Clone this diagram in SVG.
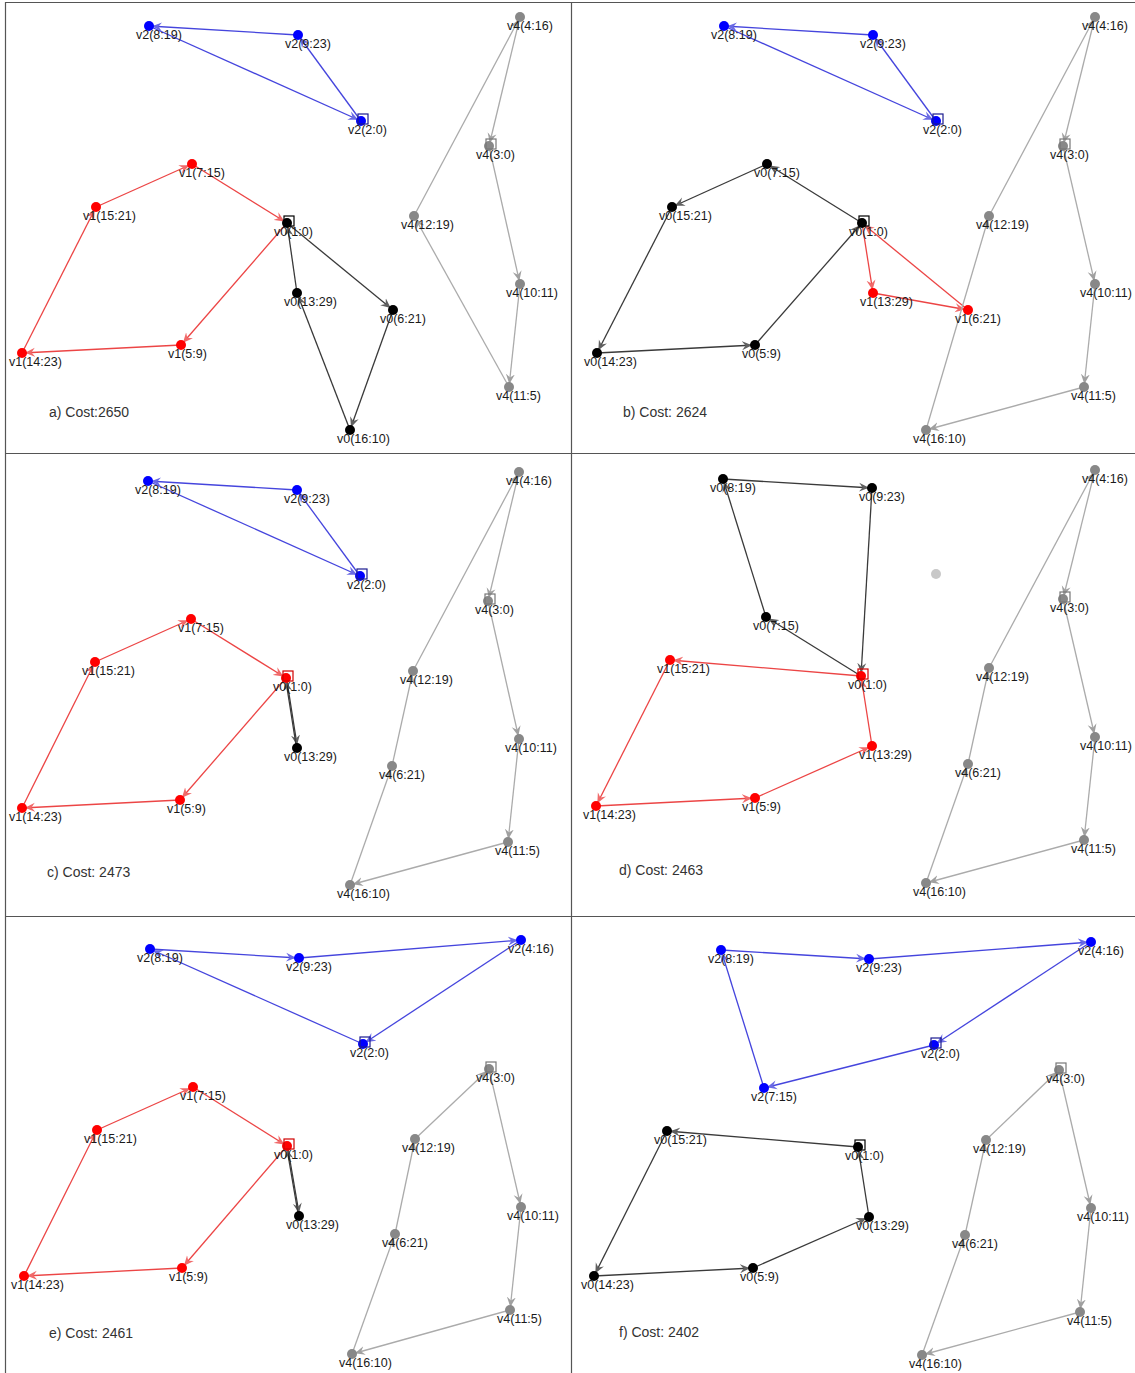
<svg xmlns="http://www.w3.org/2000/svg" width="1135" height="1373" viewBox="0 0 1135 1373">
<style>
.bg{fill:#fff}
.frame{stroke:#555;stroke-width:1.2;fill:none}
.lb{font-family:"Liberation Sans",Arial,sans-serif;font-size:12.5px;fill:#1a1a1a}
.cost{font-family:"Liberation Sans",Arial,sans-serif;font-size:14px;fill:#333}
.eb{stroke:#4545dd;stroke-width:1.3;marker-end:url(#mb)}
.er{stroke:#ec4545;stroke-width:1.3;marker-end:url(#mr)}
.ek{stroke:#3a3a3a;stroke-width:1.3;marker-end:url(#mk)}
.eg{stroke:#ababab;stroke-width:1.3;marker-end:url(#mg)}
.nb{fill:#0000ff}.nr{fill:#ff0000}.nk{fill:#000}.ng{fill:#888}.nl{fill:#c8c8c8}
.sq{fill:none;stroke-width:1.2}
.sb{stroke:#1c1c90}.sr{stroke:#d00000}.sk{stroke:#000}.sg{stroke:#777}
</style>
<defs>
<marker id="mb" viewBox="0 0 10 10" refX="13" refY="5" markerWidth="10" markerHeight="10" markerUnits="userSpaceOnUse" orient="auto"><path d="M0,0.5 L10,5 L0,9.5 L3.5,5 z" fill="#6a6ae4"/></marker>
<marker id="mr" viewBox="0 0 10 10" refX="13" refY="5" markerWidth="10" markerHeight="10" markerUnits="userSpaceOnUse" orient="auto"><path d="M0,0.5 L10,5 L0,9.5 L3.5,5 z" fill="#f06a6a"/></marker>
<marker id="mk" viewBox="0 0 10 10" refX="13" refY="5" markerWidth="10" markerHeight="10" markerUnits="userSpaceOnUse" orient="auto"><path d="M0,0.5 L10,5 L0,9.5 L3.5,5 z" fill="#606060"/></marker>
<marker id="mg" viewBox="0 0 10 10" refX="13" refY="5" markerWidth="10" markerHeight="10" markerUnits="userSpaceOnUse" orient="auto"><path d="M0,0.5 L10,5 L0,9.5 L3.5,5 z" fill="#a0a0a0"/></marker>
</defs>
<rect class="bg" x="0" y="0" width="1135" height="1373"/>
<g id="frame" class="frame">
<line x1="5" y1="2.5" x2="1135" y2="2.5"/>
<line x1="5.5" y1="2" x2="5.5" y2="1373"/>
<line x1="571.5" y1="2" x2="571.5" y2="1373"/>
<line x1="5" y1="453.5" x2="1135" y2="453.5"/>
<line x1="5" y1="916.5" x2="1135" y2="916.5"/>
</g>
<g id="connectors">
<!-- panel a -->
<line class="eb" x1="361" y1="121" x2="298" y2="35"/>
<line class="eb" x1="298" y1="35" x2="149" y2="26"/>
<line class="eb" x1="149" y1="26" x2="361" y2="121"/>
<line class="er" x1="287" y1="223" x2="181" y2="345"/>
<line class="er" x1="181" y1="345" x2="22" y2="353"/>
<line class="er" x1="22" y1="353" x2="96" y2="207"/>
<line class="er" x1="96" y1="207" x2="192" y2="164"/>
<line class="er" x1="192" y1="164" x2="287" y2="223"/>
<line class="ek" x1="287" y1="223" x2="393" y2="310"/>
<line class="ek" x1="393" y1="310" x2="350" y2="430"/>
<line class="ek" x1="350" y1="430" x2="297" y2="293"/>
<line class="ek" x1="297" y1="293" x2="287" y2="223"/>
<line class="eg" x1="489" y1="146" x2="520" y2="284"/>
<line class="eg" x1="520" y1="284" x2="509" y2="387"/>
<line class="eg" x1="509" y1="387" x2="414" y2="216"/>
<line class="eg" x1="414" y1="216" x2="520" y2="17"/>
<line class="eg" x1="520" y1="17" x2="489" y2="146"/>
<!-- panel b -->
<line class="eb" x1="936" y1="121" x2="873" y2="35"/>
<line class="eb" x1="873" y1="35" x2="724" y2="26"/>
<line class="eb" x1="724" y1="26" x2="936" y2="121"/>
<line class="ek" x1="862" y1="223" x2="767" y2="164"/>
<line class="ek" x1="767" y1="164" x2="672" y2="207"/>
<line class="ek" x1="672" y1="207" x2="597" y2="353"/>
<line class="ek" x1="597" y1="353" x2="755" y2="345"/>
<line class="ek" x1="755" y1="345" x2="862" y2="223"/>
<line class="er" x1="862" y1="223" x2="873" y2="293"/>
<line class="er" x1="873" y1="293" x2="968" y2="310"/>
<line class="er" x1="968" y1="310" x2="862" y2="223"/>
<line class="eg" x1="1095" y1="17" x2="1063" y2="146"/>
<line class="eg" x1="1063" y1="146" x2="1095" y2="284"/>
<line class="eg" x1="1095" y1="284" x2="1084" y2="387"/>
<line class="eg" x1="1084" y1="387" x2="926" y2="430"/>
<line class="eg" x1="926" y1="430" x2="989" y2="216"/>
<line class="eg" x1="989" y1="216" x2="1095" y2="17"/>
<!-- panel c -->
<line class="eb" x1="360" y1="576" x2="297" y2="490"/>
<line class="eb" x1="297" y1="490" x2="148" y2="481"/>
<line class="eb" x1="148" y1="481" x2="360" y2="576"/>
<line class="er" x1="286" y1="678" x2="180" y2="800"/>
<line class="er" x1="180" y1="800" x2="22" y2="808"/>
<line class="er" x1="22" y1="808" x2="95" y2="662"/>
<line class="er" x1="95" y1="662" x2="191" y2="619"/>
<line class="er" x1="191" y1="619" x2="286" y2="678"/>
<line class="ek" x1="286.5" y1="678" x2="297.5" y2="748"/>
<line class="ek" x1="296.5" y1="748" x2="285.5" y2="678"/>
<line class="eg" x1="519" y1="472" x2="488" y2="601"/>
<line class="eg" x1="488" y1="601" x2="519" y2="739"/>
<line class="eg" x1="519" y1="739" x2="508" y2="842"/>
<line class="eg" x1="508" y1="842" x2="350" y2="885"/>
<line class="eg" x1="350" y1="885" x2="392" y2="766"/>
<line class="eg" x1="392" y1="766" x2="413" y2="671"/>
<line class="eg" x1="413" y1="671" x2="519" y2="472"/>
<!-- panel d -->
<line class="ek" x1="861" y1="676" x2="766" y2="617"/>
<line class="ek" x1="766" y1="617" x2="723" y2="479"/>
<line class="ek" x1="723" y1="479" x2="872" y2="488"/>
<line class="ek" x1="872" y1="488" x2="861" y2="676"/>
<line class="er" x1="861" y1="676" x2="670" y2="660"/>
<line class="er" x1="670" y1="660" x2="596" y2="806"/>
<line class="er" x1="596" y1="806" x2="755" y2="798"/>
<line class="er" x1="755" y1="798" x2="872" y2="746"/>
<line class="er" x1="872" y1="746" x2="861" y2="676"/>
<line class="eg" x1="1095" y1="470" x2="1063" y2="599"/>
<line class="eg" x1="1063" y1="599" x2="1095" y2="737"/>
<line class="eg" x1="1095" y1="737" x2="1084" y2="840"/>
<line class="eg" x1="1084" y1="840" x2="926" y2="883"/>
<line class="eg" x1="926" y1="883" x2="968" y2="764"/>
<line class="eg" x1="968" y1="764" x2="989" y2="668"/>
<line class="eg" x1="989" y1="668" x2="1095" y2="470"/>
<!-- panel e -->
<line class="eb" x1="363" y1="1044" x2="150" y2="949"/>
<line class="eb" x1="150" y1="949" x2="299" y2="958"/>
<line class="eb" x1="299" y1="958" x2="521" y2="940"/>
<line class="eb" x1="521" y1="940" x2="363" y2="1044"/>
<line class="er" x1="287" y1="1146" x2="182" y2="1268"/>
<line class="er" x1="182" y1="1268" x2="24" y2="1276"/>
<line class="er" x1="24" y1="1276" x2="97" y2="1130"/>
<line class="er" x1="97" y1="1130" x2="193" y2="1087"/>
<line class="er" x1="193" y1="1087" x2="287" y2="1146"/>
<line class="ek" x1="287.5" y1="1146" x2="299.5" y2="1216"/>
<line class="ek" x1="298.5" y1="1216" x2="286.5" y2="1146"/>
<line class="eg" x1="489" y1="1069" x2="521" y2="1207"/>
<line class="eg" x1="521" y1="1207" x2="510" y2="1310"/>
<line class="eg" x1="510" y1="1310" x2="352" y2="1354"/>
<line class="eg" x1="352" y1="1354" x2="395" y2="1234"/>
<line class="eg" x1="395" y1="1234" x2="415" y2="1139"/>
<line class="eg" x1="415" y1="1139" x2="489" y2="1069"/>
<!-- panel f -->
<line class="eb" x1="934" y1="1045" x2="764" y2="1088"/>
<line class="eb" x1="764" y1="1088" x2="721" y2="950"/>
<line class="eb" x1="721" y1="950" x2="869" y2="959"/>
<line class="eb" x1="869" y1="959" x2="1091" y2="942"/>
<line class="eb" x1="1091" y1="942" x2="934" y2="1045"/>
<line class="ek" x1="858" y1="1147" x2="667" y2="1131"/>
<line class="ek" x1="667" y1="1131" x2="594" y2="1276"/>
<line class="ek" x1="594" y1="1276" x2="753" y2="1268"/>
<line class="ek" x1="753" y1="1268" x2="869" y2="1217"/>
<line class="ek" x1="869" y1="1217" x2="858" y2="1147"/>
<line class="eg" x1="1059" y1="1070" x2="1091" y2="1208"/>
<line class="eg" x1="1091" y1="1208" x2="1080" y2="1312"/>
<line class="eg" x1="1080" y1="1312" x2="922" y2="1355"/>
<line class="eg" x1="922" y1="1355" x2="965" y2="1235"/>
<line class="eg" x1="965" y1="1235" x2="986" y2="1140"/>
<line class="eg" x1="986" y1="1140" x2="1059" y2="1070"/>
</g>
<g id="panel-a">
<g id="a-v2-8-19"><circle class="nb" cx="149" cy="26" r="5"/><text class="lb" x="136" y="39">v2(8:19)</text></g>
<g id="a-v2-9-23"><circle class="nb" cx="298" cy="35" r="5"/><text class="lb" x="285" y="48">v2(9:23)</text></g>
<g id="a-v2-2-0"><circle class="nb" cx="361" cy="121" r="5"/><rect class="sq sb" x="358" y="114" width="10" height="10"/><text class="lb" x="348" y="134">v2(2:0)</text></g>
<g id="a-v1-7-15"><circle class="nr" cx="192" cy="164" r="5"/><text class="lb" x="179" y="177">v1(7:15)</text></g>
<g id="a-v1-15-21"><circle class="nr" cx="96" cy="207" r="5"/><text class="lb" x="83" y="220">v1(15:21)</text></g>
<g id="a-v1-14-23"><circle class="nr" cx="22" cy="353" r="5"/><text class="lb" x="9" y="366">v1(14:23)</text></g>
<g id="a-v1-5-9"><circle class="nr" cx="181" cy="345" r="5"/><text class="lb" x="168" y="358">v1(5:9)</text></g>
<g id="a-v0-1-0"><circle class="nk" cx="287" cy="223" r="5"/><rect class="sq sk" x="284" y="216" width="10" height="10"/><text class="lb" x="274" y="236">v0(1:0)</text></g>
<g id="a-v0-13-29"><circle class="nk" cx="297" cy="293" r="5"/><text class="lb" x="284" y="306">v0(13:29)</text></g>
<g id="a-v0-6-21"><circle class="nk" cx="393" cy="310" r="5"/><text class="lb" x="380" y="323">v0(6:21)</text></g>
<g id="a-v0-16-10"><circle class="nk" cx="350" cy="430" r="5"/><text class="lb" x="337" y="443">v0(16:10)</text></g>
<g id="a-v4-4-16"><circle class="ng" cx="520" cy="17" r="5"/><text class="lb" x="507" y="30">v4(4:16)</text></g>
<g id="a-v4-3-0"><circle class="ng" cx="489" cy="146" r="5"/><rect class="sq sg" x="486" y="139" width="10" height="10"/><text class="lb" x="476" y="159">v4(3:0)</text></g>
<g id="a-v4-12-19"><circle class="ng" cx="414" cy="216" r="5"/><text class="lb" x="401" y="229">v4(12:19)</text></g>
<g id="a-v4-10-11"><circle class="ng" cx="520" cy="284" r="5"/><text class="lb" x="506" y="297">v4(10:11)</text></g>
<g id="a-v4-11-5"><circle class="ng" cx="509" cy="387" r="5"/><text class="lb" x="496" y="400">v4(11:5)</text></g>
<text class="cost" x="49" y="417">a) Cost:2650</text>
</g>
<g id="panel-b">
<g id="b-v2-8-19"><circle class="nb" cx="724" cy="26" r="5"/><text class="lb" x="711" y="39">v2(8:19)</text></g>
<g id="b-v2-9-23"><circle class="nb" cx="873" cy="35" r="5"/><text class="lb" x="860" y="48">v2(9:23)</text></g>
<g id="b-v2-2-0"><circle class="nb" cx="936" cy="121" r="5"/><rect class="sq sb" x="933" y="114" width="10" height="10"/><text class="lb" x="923" y="134">v2(2:0)</text></g>
<g id="b-v0-7-15"><circle class="nk" cx="767" cy="164" r="5"/><text class="lb" x="754" y="177">v0(7:15)</text></g>
<g id="b-v0-15-21"><circle class="nk" cx="672" cy="207" r="5"/><text class="lb" x="659" y="220">v0(15:21)</text></g>
<g id="b-v0-14-23"><circle class="nk" cx="597" cy="353" r="5"/><text class="lb" x="584" y="366">v0(14:23)</text></g>
<g id="b-v0-5-9"><circle class="nk" cx="755" cy="345" r="5"/><text class="lb" x="742" y="358">v0(5:9)</text></g>
<g id="b-v0-1-0"><circle class="nk" cx="862" cy="223" r="5"/><rect class="sq sk" x="859" y="216" width="10" height="10"/><text class="lb" x="849" y="236">v0(1:0)</text></g>
<g id="b-v1-13-29"><circle class="nr" cx="873" cy="293" r="5"/><text class="lb" x="860" y="306">v1(13:29)</text></g>
<g id="b-v1-6-21"><circle class="nr" cx="968" cy="310" r="5"/><text class="lb" x="955" y="323">v1(6:21)</text></g>
<g id="b-v4-4-16"><circle class="ng" cx="1095" cy="17" r="5"/><text class="lb" x="1082" y="30">v4(4:16)</text></g>
<g id="b-v4-3-0"><circle class="ng" cx="1063" cy="146" r="5"/><rect class="sq sg" x="1060" y="139" width="10" height="10"/><text class="lb" x="1050" y="159">v4(3:0)</text></g>
<g id="b-v4-12-19"><circle class="ng" cx="989" cy="216" r="5"/><text class="lb" x="976" y="229">v4(12:19)</text></g>
<g id="b-v4-10-11"><circle class="ng" cx="1095" cy="284" r="5"/><text class="lb" x="1080" y="297">v4(10:11)</text></g>
<g id="b-v4-11-5"><circle class="ng" cx="1084" cy="387" r="5"/><text class="lb" x="1071" y="400">v4(11:5)</text></g>
<g id="b-v4-16-10"><circle class="ng" cx="926" cy="430" r="5"/><text class="lb" x="913" y="443">v4(16:10)</text></g>
<text class="cost" x="623" y="417">b) Cost: 2624</text>
</g>
<g id="panel-c">
<g id="c-v2-8-19"><circle class="nb" cx="148" cy="481" r="5"/><text class="lb" x="135" y="494">v2(8:19)</text></g>
<g id="c-v2-9-23"><circle class="nb" cx="297" cy="490" r="5"/><text class="lb" x="284" y="503">v2(9:23)</text></g>
<g id="c-v2-2-0"><circle class="nb" cx="360" cy="576" r="5"/><rect class="sq sb" x="357" y="569" width="10" height="10"/><text class="lb" x="347" y="589">v2(2:0)</text></g>
<g id="c-v1-7-15"><circle class="nr" cx="191" cy="619" r="5"/><text class="lb" x="178" y="632">v1(7:15)</text></g>
<g id="c-v1-15-21"><circle class="nr" cx="95" cy="662" r="5"/><text class="lb" x="82" y="675">v1(15:21)</text></g>
<g id="c-v1-14-23"><circle class="nr" cx="22" cy="808" r="5"/><text class="lb" x="9" y="821">v1(14:23)</text></g>
<g id="c-v1-5-9"><circle class="nr" cx="180" cy="800" r="5"/><text class="lb" x="167" y="813">v1(5:9)</text></g>
<g id="c-v0-1-0"><circle class="nr" cx="286" cy="678" r="5"/><rect class="sq sr" x="283" y="671" width="10" height="10"/><text class="lb" x="273" y="691">v0(1:0)</text></g>
<g id="c-v0-13-29"><circle class="nk" cx="297" cy="748" r="5"/><text class="lb" x="284" y="761">v0(13:29)</text></g>
<g id="c-v4-4-16"><circle class="ng" cx="519" cy="472" r="5"/><text class="lb" x="506" y="485">v4(4:16)</text></g>
<g id="c-v4-3-0"><circle class="ng" cx="488" cy="601" r="5"/><rect class="sq sg" x="485" y="594" width="10" height="10"/><text class="lb" x="475" y="614">v4(3:0)</text></g>
<g id="c-v4-12-19"><circle class="ng" cx="413" cy="671" r="5"/><text class="lb" x="400" y="684">v4(12:19)</text></g>
<g id="c-v4-10-11"><circle class="ng" cx="519" cy="739" r="5"/><text class="lb" x="505" y="752">v4(10:11)</text></g>
<g id="c-v4-6-21"><circle class="ng" cx="392" cy="766" r="5"/><text class="lb" x="379" y="779">v4(6:21)</text></g>
<g id="c-v4-11-5"><circle class="ng" cx="508" cy="842" r="5"/><text class="lb" x="495" y="855">v4(11:5)</text></g>
<g id="c-v4-16-10"><circle class="ng" cx="350" cy="885" r="5"/><text class="lb" x="337" y="898">v4(16:10)</text></g>
<text class="cost" x="47" y="877">c) Cost: 2473</text>
</g>
<g id="panel-d">
<g id="d-v0-8-19"><circle class="nk" cx="723" cy="479" r="5"/><text class="lb" x="710" y="492">v0(8:19)</text></g>
<g id="d-v0-9-23"><circle class="nk" cx="872" cy="488" r="5"/><text class="lb" x="859" y="501">v0(9:23)</text></g>
<g id="d-v0-7-15"><circle class="nk" cx="766" cy="617" r="5"/><text class="lb" x="753" y="630">v0(7:15)</text></g>
<g id="d-v0-1-0"><circle class="nr" cx="861" cy="676" r="5"/><rect class="sq sr" x="858" y="669" width="10" height="10"/><text class="lb" x="848" y="689">v0(1:0)</text></g>
<g id="d-v1-15-21"><circle class="nr" cx="670" cy="660" r="5"/><text class="lb" x="657" y="673">v1(15:21)</text></g>
<g id="d-v1-14-23"><circle class="nr" cx="596" cy="806" r="5"/><text class="lb" x="583" y="819">v1(14:23)</text></g>
<g id="d-v1-5-9"><circle class="nr" cx="755" cy="798" r="5"/><text class="lb" x="742" y="811">v1(5:9)</text></g>
<g id="d-v1-13-29"><circle class="nr" cx="872" cy="746" r="5"/><text class="lb" x="859" y="759">v1(13:29)</text></g>
<g id="d-unused"><circle class="nl" cx="936" cy="574" r="5"/></g>
<g id="d-v4-4-16"><circle class="ng" cx="1095" cy="470" r="5"/><text class="lb" x="1082" y="483">v4(4:16)</text></g>
<g id="d-v4-3-0"><circle class="ng" cx="1063" cy="599" r="5"/><rect class="sq sg" x="1060" y="592" width="10" height="10"/><text class="lb" x="1050" y="612">v4(3:0)</text></g>
<g id="d-v4-12-19"><circle class="ng" cx="989" cy="668" r="5"/><text class="lb" x="976" y="681">v4(12:19)</text></g>
<g id="d-v4-10-11"><circle class="ng" cx="1095" cy="737" r="5"/><text class="lb" x="1080" y="750">v4(10:11)</text></g>
<g id="d-v4-6-21"><circle class="ng" cx="968" cy="764" r="5"/><text class="lb" x="955" y="777">v4(6:21)</text></g>
<g id="d-v4-11-5"><circle class="ng" cx="1084" cy="840" r="5"/><text class="lb" x="1071" y="853">v4(11:5)</text></g>
<g id="d-v4-16-10"><circle class="ng" cx="926" cy="883" r="5"/><text class="lb" x="913" y="896">v4(16:10)</text></g>
<text class="cost" x="619" y="875">d) Cost: 2463</text>
</g>
<g id="panel-e">
<g id="e-v2-8-19"><circle class="nb" cx="150" cy="949" r="5"/><text class="lb" x="137" y="962">v2(8:19)</text></g>
<g id="e-v2-9-23"><circle class="nb" cx="299" cy="958" r="5"/><text class="lb" x="286" y="971">v2(9:23)</text></g>
<g id="e-v2-4-16"><circle class="nb" cx="521" cy="940" r="5"/><text class="lb" x="508" y="953">v2(4:16)</text></g>
<g id="e-v2-2-0"><circle class="nb" cx="363" cy="1044" r="5"/><rect class="sq sb" x="360" y="1037" width="10" height="10"/><text class="lb" x="350" y="1057">v2(2:0)</text></g>
<g id="e-v1-7-15"><circle class="nr" cx="193" cy="1087" r="5"/><text class="lb" x="180" y="1100">v1(7:15)</text></g>
<g id="e-v1-15-21"><circle class="nr" cx="97" cy="1130" r="5"/><text class="lb" x="84" y="1143">v1(15:21)</text></g>
<g id="e-v1-14-23"><circle class="nr" cx="24" cy="1276" r="5"/><text class="lb" x="11" y="1289">v1(14:23)</text></g>
<g id="e-v1-5-9"><circle class="nr" cx="182" cy="1268" r="5"/><text class="lb" x="169" y="1281">v1(5:9)</text></g>
<g id="e-v0-1-0"><circle class="nr" cx="287" cy="1146" r="5"/><rect class="sq sr" x="284" y="1139" width="10" height="10"/><text class="lb" x="274" y="1159">v0(1:0)</text></g>
<g id="e-v0-13-29"><circle class="nk" cx="299" cy="1216" r="5"/><text class="lb" x="286" y="1229">v0(13:29)</text></g>
<g id="e-v4-3-0"><circle class="ng" cx="489" cy="1069" r="5"/><rect class="sq sg" x="486" y="1062" width="10" height="10"/><text class="lb" x="476" y="1082">v4(3:0)</text></g>
<g id="e-v4-12-19"><circle class="ng" cx="415" cy="1139" r="5"/><text class="lb" x="402" y="1152">v4(12:19)</text></g>
<g id="e-v4-10-11"><circle class="ng" cx="521" cy="1207" r="5"/><text class="lb" x="507" y="1220">v4(10:11)</text></g>
<g id="e-v4-6-21"><circle class="ng" cx="395" cy="1234" r="5"/><text class="lb" x="382" y="1247">v4(6:21)</text></g>
<g id="e-v4-11-5"><circle class="ng" cx="510" cy="1310" r="5"/><text class="lb" x="497" y="1323">v4(11:5)</text></g>
<g id="e-v4-16-10"><circle class="ng" cx="352" cy="1354" r="5"/><text class="lb" x="339" y="1367">v4(16:10)</text></g>
<text class="cost" x="49" y="1338">e) Cost: 2461</text>
</g>
<g id="panel-f">
<g id="f-v2-8-19"><circle class="nb" cx="721" cy="950" r="5"/><text class="lb" x="708" y="963">v2(8:19)</text></g>
<g id="f-v2-9-23"><circle class="nb" cx="869" cy="959" r="5"/><text class="lb" x="856" y="972">v2(9:23)</text></g>
<g id="f-v2-4-16"><circle class="nb" cx="1091" cy="942" r="5"/><text class="lb" x="1078" y="955">v2(4:16)</text></g>
<g id="f-v2-2-0"><circle class="nb" cx="934" cy="1045" r="5"/><rect class="sq sb" x="931" y="1038" width="10" height="10"/><text class="lb" x="921" y="1058">v2(2:0)</text></g>
<g id="f-v2-7-15"><circle class="nb" cx="764" cy="1088" r="5"/><text class="lb" x="751" y="1101">v2(7:15)</text></g>
<g id="f-v0-15-21"><circle class="nk" cx="667" cy="1131" r="5"/><text class="lb" x="654" y="1144">v0(15:21)</text></g>
<g id="f-v0-1-0"><circle class="nk" cx="858" cy="1147" r="5"/><rect class="sq sk" x="855" y="1140" width="10" height="10"/><text class="lb" x="845" y="1160">v0(1:0)</text></g>
<g id="f-v0-13-29"><circle class="nk" cx="869" cy="1217" r="5"/><text class="lb" x="856" y="1230">v0(13:29)</text></g>
<g id="f-v0-14-23"><circle class="nk" cx="594" cy="1276" r="5"/><text class="lb" x="581" y="1289">v0(14:23)</text></g>
<g id="f-v0-5-9"><circle class="nk" cx="753" cy="1268" r="5"/><text class="lb" x="740" y="1281">v0(5:9)</text></g>
<g id="f-v4-3-0"><circle class="ng" cx="1059" cy="1070" r="5"/><rect class="sq sg" x="1056" y="1063" width="10" height="10"/><text class="lb" x="1046" y="1083">v4(3:0)</text></g>
<g id="f-v4-12-19"><circle class="ng" cx="986" cy="1140" r="5"/><text class="lb" x="973" y="1153">v4(12:19)</text></g>
<g id="f-v4-10-11"><circle class="ng" cx="1091" cy="1208" r="5"/><text class="lb" x="1077" y="1221">v4(10:11)</text></g>
<g id="f-v4-6-21"><circle class="ng" cx="965" cy="1235" r="5"/><text class="lb" x="952" y="1248">v4(6:21)</text></g>
<g id="f-v4-11-5"><circle class="ng" cx="1080" cy="1312" r="5"/><text class="lb" x="1067" y="1325">v4(11:5)</text></g>
<g id="f-v4-16-10"><circle class="ng" cx="922" cy="1355" r="5"/><text class="lb" x="909" y="1368">v4(16:10)</text></g>
<text class="cost" x="619" y="1337">f) Cost: 2402</text>
</g>
</svg>
